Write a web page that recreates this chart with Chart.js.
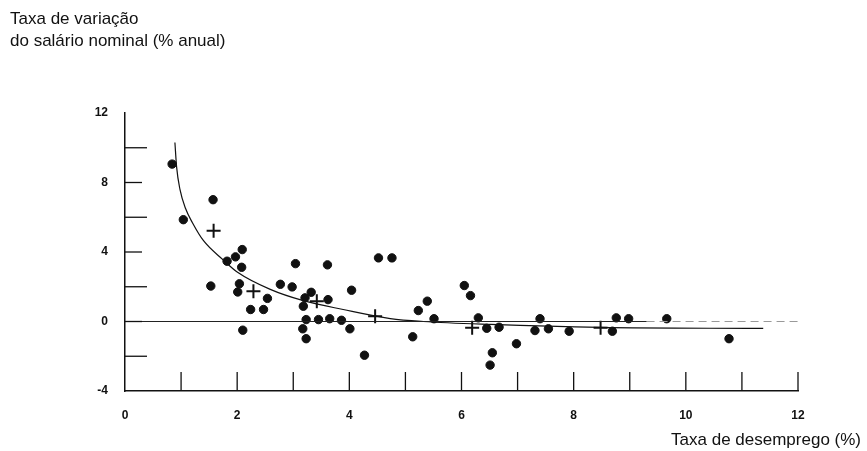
<!DOCTYPE html>
<html>
<head>
<meta charset="utf-8">
<script src="https://cdn.jsdelivr.net/npm/chart.js@4/dist/chart.umd.min.js"></script>
<style>
  body { margin: 0; background: #fff; }
  #wrap { position: relative; width: 867px; height: 451px; }
  .lbl { position: absolute; font-family: "Liberation Sans", Arial, sans-serif; font-size: 17px; color: #111; white-space: nowrap; }
</style>
</head>
<body>
<div id="wrap">
  <canvas id="chart"></canvas>
  <div class="lbl" style="left:10px; top:8px; line-height:22px;">Taxa de variação<br>do salário nominal (% anual)</div>
  <div class="lbl" style="right:6px; top:430px;">Taxa de desemprego (%)</div>
</div>
<script>
// observações anuais (taxa de desemprego, variação do salário nominal)
const obsDesemprego = [0.84, 1.57, 1.04, 2.09, 1.97, 1.82, 2.08, 3.04, 1.53, 2.04, 2.01, 2.77, 2.98, 2.54, 2.24, 2.47, 2.10,
  3.61, 4.52, 4.76, 4.04, 3.32, 3.21, 3.62, 3.18, 5.39, 5.23, 3.23, 3.45, 3.65, 3.86, 3.17, 4.01, 3.23, 5.13, 4.27,
  6.05, 6.16, 5.51, 6.30, 6.45, 6.67, 6.55, 6.51, 6.98, 7.40, 7.31, 7.55, 7.92, 8.69, 8.76, 8.98, 9.66, 10.77];
const obsSalario = [9.06, 7.01, 5.86, 4.14, 3.72, 3.47, 3.12, 3.33, 2.04, 2.17, 1.70, 2.14, 1.99, 1.33, 0.69, 0.69, -0.50,
  3.26, 3.66, 3.66, 1.80, 1.68, 1.36, 1.26, 0.88, 1.17, 0.63, 0.11, 0.11, 0.16, 0.07, -0.42, -0.42, -0.99, -0.88, -1.94,
  2.07, 1.49, 0.16, 0.21, -0.39, -0.33, -1.80, -2.51, -1.28, 0.16, -0.52, -0.42, -0.56, -0.56, 0.21, 0.16, 0.16, -0.99];

// médias por grupo (cruzes)
const mediaDesemprego = [1.58, 2.29, 3.42, 4.46, 6.19, 8.48];
const mediaSalario = [5.23, 1.74, 1.17, 0.30, -0.36, -0.36];

// curva ajustada
const curvaX = [0.89, 0.92, 0.98, 1.08, 1.2, 1.4, 1.75, 2.0, 2.59, 3.18, 3.89, 4.73, 5.32, 6.52, 8.48, 11.38];
const curvaY = [10.3, 8.9, 7.6, 6.5, 5.7, 4.65, 3.55, 2.85, 1.85, 1.2, 0.69, 0.17, 0.0, -0.17, -0.34, -0.40];

// linha do zero (sólida e depois tracejada)
const zeroSolidaX = [0, 9.3];
const zeroTracoX = [9.3, 12];

const xTicks = [0, 2, 4, 6, 8, 10, 12];
const yTicks = [-4, 0, 4, 8, 12];

const pts = (xs, ys) => xs.map((x, i) => ({ x: x, y: ys[i] }));

const inwardTicks = {
  id: 'inwardTicks',
  afterDatasetsDraw(chart) {
    const { ctx, scales: { x, y } } = chart;
    ctx.save();
    ctx.strokeStyle = '#111';
    ctx.lineWidth = 1.3;
    x.ticks.forEach(t => {
      if (t.value <= 0) return;
      const px = x.getPixelForValue(t.value);
      ctx.beginPath();
      ctx.moveTo(px, y.bottom);
      ctx.lineTo(px, y.bottom - 19);
      ctx.stroke();
    });
    y.ticks.forEach(t => {
      if (t.value <= -4 || t.value >= 12) return;
      const py = y.getPixelForValue(t.value);
      ctx.beginPath();
      ctx.moveTo(x.left, py);
      ctx.lineTo(x.left + (t.value % 4 === 0 ? 17 : 22), py);
      ctx.stroke();
    });
    ctx.restore();
  }
};

new Chart(document.getElementById('chart'), {
  type: 'scatter',
  data: {
    datasets: [
      {
        type: 'line', data: pts(zeroSolidaX, [0, 0]),
        borderColor: '#222', borderWidth: 1.2, pointRadius: 0
      },
      {
        type: 'line', data: pts(zeroTracoX, [0, 0]),
        borderColor: '#999', borderWidth: 1, borderDash: [8, 5], pointRadius: 0
      },
      {
        type: 'line', data: pts(curvaX, curvaY),
        borderColor: '#111', borderWidth: 1.2, pointRadius: 0,
        cubicInterpolationMode: 'monotone'
      },
      {
        data: pts(obsDesemprego, obsSalario),
        backgroundColor: '#111', borderColor: '#111', pointRadius: 4.2
      },
      {
        data: pts(mediaDesemprego, mediaSalario),
        pointStyle: 'cross', pointRadius: 7, borderColor: '#111', borderWidth: 2
      }
    ]
  },
  options: {
    responsive: true,
    maintainAspectRatio: false,
    animation: false,
    layout: { padding: { top: 113, left: 0, right: 69, bottom: 30 } },
    plugins: { legend: { display: false }, tooltip: { enabled: false } },
    scales: {
      x: {
        type: 'linear', min: 0, max: 12,
        afterFit: s => { s.height = 30; },
        afterBuildTicks: s => { s.ticks = [0, 1, 2, 3, 4, 5, 6, 7, 8, 9, 10, 11, 12].map(v => ({ value: v })); },
        border: { color: '#111', width: 1.5 },
        grid: { display: false },
        ticks: {
          padding: 9, color: '#111',
          font: { family: 'Liberation Sans', size: 12, weight: 'bold' },
          callback: v => xTicks.includes(v) ? String(v) : ''
        }
      },
      y: {
        type: 'linear', min: -4, max: 12,
        afterFit: s => { s.width = 125; },
        afterBuildTicks: s => { s.ticks = [-4, -2, 0, 2, 4, 6, 8, 10, 12].map(v => ({ value: v })); },
        border: { color: '#111', width: 1.5 },
        grid: { display: false },
        ticks: {
          padding: 9, color: '#111',
          font: { family: 'Liberation Sans', size: 12, weight: 'bold' },
          callback: v => yTicks.includes(v) ? String(v) : ''
        }
      }
    }
  },
  plugins: [inwardTicks]
});
</script>
</body>
</html>
